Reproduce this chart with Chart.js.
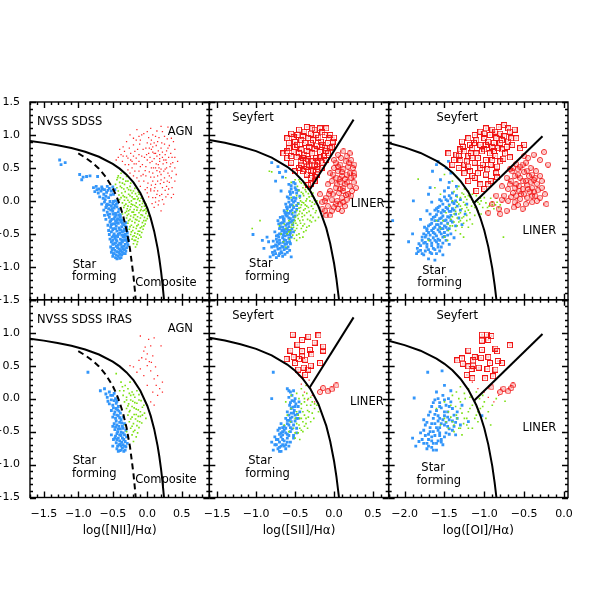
<!DOCTYPE html>
<html>
<head>
<meta charset="utf-8">
<script src="https://cdn.jsdelivr.net/npm/chart.js@4.4.1/dist/chart.umd.min.js"></script>
<style>
body { margin: 0; background: #fff; }
canvas { display: block; }
</style>
</head>
<body>
<canvas id="bpt" width="600" height="600"></canvas>
<script>
// tick labels
const xTicksNII = [-1.5, -1.0, -0.5, 0.0, 0.5]
const xTicksSII = [-1.5, -1.0, -0.5, 0.0, 0.5]
const xTicksOI = [-2.0, -1.5, -1.0, -0.5, 0.0]
const yTicks = [-1.5, -1.0, -0.5, 0.0, 0.5, 1.0, 1.5]

// demarcation lines
const kewleyNII = [[-1.7,0.909],[-1.5,0.88],[-1.3,0.845],[-1.1,0.801],[-0.9,0.745],[-0.7,0.669],[-0.5,0.561],[-0.4,0.489],[-0.3,0.398],[-0.2,0.28],[-0.1,0.12],[0.0,-0.108],[0.05,-0.262],[0.1,-0.459],[0.15,-0.716],[0.175,-0.878],[0.2,-1.069],[0.22,-1.25],[0.243,-1.5]]
const kauffNII = [[-1.0,0.719],[-0.9,0.658],[-0.8,0.582],[-0.7,0.487],[-0.6,0.362],[-0.5,0.191],[-0.45,0.08],[-0.4,-0.056],[-0.35,-0.225],[-0.3,-0.443],[-0.25,-0.733],[-0.2,-1.14],[-0.18,-1.352],[-0.168,-1.5]]
const kewleySII = [[-1.6,0.925],[-1.4,0.881],[-1.2,0.826],[-1.0,0.755],[-0.8,0.657],[-0.6,0.517],[-0.5,0.422],[-0.4,0.3],[-0.3,0.139],[-0.2,-0.085],[-0.1,-0.414],[-0.05,-0.646],[0.0,-0.95],[0.03,-1.183],[0.063,-1.5]]
const seyLineSII = [[-0.315,0.165],[0.25,1.233]]
const kewleyOI = [[-2.2,0.877],[-2.0,0.812],[-1.8,0.727],[-1.6,0.607],[-1.5,0.528],[-1.4,0.429],[-1.3,0.302],[-1.2,0.133],[-1.1,-0.101],[-1.05,-0.257],[-1.0,-0.45],[-0.95,-0.698],[-0.9,-1.025],[-0.87,-1.277],[-0.848,-1.5]]
const seyLineOI = [[-1.13,-0.033],[-0.27,0.981]]

// NVSS SDSS, [NII]
const niiSF = [[-1.27,0.62],[-1.25,0.55],[-1.19,0.58],[-0.98,0.40],[-0.93,0.36],[-0.88,0.37],[-0.83,0.38],[-0.72,0.37],[-0.95,0.32],
[-0.78,0.2],[-0.74,0.22],[-0.7,0.18],[-0.66,0.21],[-0.62,0.17],[-0.58,0.22],[-0.55,0.19],[-0.76,0.14],[-0.71,0.12],[-0.67,0.15],[-0.63,0.1],[-0.59,0.13],[-0.52,0.15],[-0.5,0.21],[-0.69,0.06],[-0.64,0.04],[-0.6,0.07],[-0.56,0.05],[-0.53,0.09],[-0.49,0.1],[-0.47,0.17],
[-0.62,-0.02],[-0.58,-0.05],[-0.54,-0.01],[-0.5,-0.04],[-0.46,0.0],[-0.43,-0.03],[-0.6,-0.1],[-0.56,-0.12],[-0.52,-0.08],[-0.48,-0.11],[-0.44,-0.09],[-0.41,-0.13],[-0.58,-0.17],[-0.54,-0.2],[-0.5,-0.16],[-0.46,-0.19],[-0.42,-0.17],[-0.39,-0.21],[-0.55,-0.25],[-0.51,-0.28],[-0.47,-0.24],[-0.43,-0.27],[-0.39,-0.25],[-0.36,-0.29],
[-0.54,-0.32],[-0.5,-0.35],[-0.46,-0.31],[-0.42,-0.34],[-0.38,-0.32],[-0.34,-0.36],[-0.31,-0.33],[-0.53,-0.4],[-0.49,-0.42],[-0.45,-0.38],[-0.41,-0.41],[-0.37,-0.39],[-0.33,-0.43],[-0.3,-0.4],[-0.52,-0.47],[-0.48,-0.5],[-0.44,-0.46],[-0.4,-0.49],[-0.36,-0.47],[-0.32,-0.51],[-0.29,-0.48],[-0.51,-0.55],[-0.47,-0.57],[-0.43,-0.54],[-0.39,-0.58],[-0.35,-0.55],[-0.31,-0.59],[-0.28,-0.56],
[-0.52,-0.62],[-0.48,-0.65],[-0.44,-0.61],[-0.4,-0.64],[-0.36,-0.62],[-0.32,-0.66],[-0.29,-0.63],[-0.53,-0.7],[-0.49,-0.72],[-0.45,-0.69],[-0.41,-0.73],[-0.37,-0.7],[-0.33,-0.74],[-0.3,-0.71],[-0.52,-0.78],[-0.48,-0.8],[-0.44,-0.77],[-0.4,-0.81],[-0.36,-0.78],[-0.32,-0.8],[-0.5,-0.84],[-0.46,-0.86],[-0.42,-0.84],[-0.38,-0.86],
[-0.47,-0.07],[-0.53,-0.14],[-0.45,-0.22],[-0.4,-0.44],[-0.46,-0.53],[-0.42,-0.67],[-0.38,-0.76],[-0.35,-0.52],[-0.44,-0.29],[-0.5,-0.6],
[-0.73,0.17],[-0.65,0.18],[-0.57,0.16],[-0.61,0.02],[-0.66,-0.05],[-0.55,-0.06],[-0.49,-0.01],[-0.45,-0.05],[-0.63,-0.14],[-0.59,-0.07],[-0.51,-0.12],[-0.62,-0.22],[-0.57,-0.21],[-0.49,-0.2],[-0.41,-0.22],[-0.6,-0.28],[-0.53,-0.3],[-0.48,-0.27],[-0.4,-0.29],[-0.57,-0.37],[-0.52,-0.36],[-0.47,-0.35],[-0.44,-0.33],[-0.36,-0.34],[-0.32,-0.38],[-0.56,-0.45],[-0.5,-0.44],[-0.46,-0.42],[-0.38,-0.44],[-0.34,-0.46],[-0.3,-0.45],[-0.55,-0.51],[-0.49,-0.53],[-0.42,-0.51],[-0.37,-0.52],[-0.33,-0.55],[-0.29,-0.53],[-0.54,-0.58],[-0.45,-0.59],[-0.37,-0.6],[-0.33,-0.6],[-0.27,-0.6],[-0.5,-0.66],[-0.46,-0.64],[-0.38,-0.66],[-0.34,-0.69],[-0.28,-0.67],[-0.51,-0.74],[-0.47,-0.75],[-0.43,-0.71],[-0.39,-0.74],[-0.35,-0.73],[-0.31,-0.76],[-0.49,-0.8],[-0.45,-0.82],[-0.41,-0.78],[-0.37,-0.82],[-0.34,-0.8],[-0.44,-0.88],[-0.4,-0.87]]
const niiComp = [[-0.42,0.38],[-0.38,0.42],[-0.35,0.33],[-0.4,0.28],[-0.33,0.25],[-0.28,0.3],[-0.3,0.37],[-0.25,0.22],[-0.37,0.2],[-0.42,0.15],[-0.32,0.14],[-0.27,0.17],[-0.22,0.12],[-0.18,0.19],[-0.35,0.08],[-0.3,0.05],[-0.25,0.08],[-0.2,0.03],[-0.15,0.07],[-0.12,0.1],[-0.4,0.02],[-0.36,-0.03],[-0.31,-0.05],[-0.26,-0.02],[-0.21,-0.06],[-0.16,-0.03],[-0.11,0.0],[-0.07,-0.04],[-0.34,-0.1],[-0.29,-0.12],[-0.24,-0.09],[-0.19,-0.13],[-0.14,-0.1],[-0.09,-0.13],[-0.04,-0.08],[-0.32,-0.18],[-0.27,-0.2],[-0.22,-0.17],[-0.17,-0.21],[-0.12,-0.18],[-0.07,-0.22],[-0.02,-0.19],[-0.3,-0.26],[-0.25,-0.28],[-0.2,-0.25],[-0.15,-0.29],[-0.1,-0.26],[-0.05,-0.3],[0.0,-0.27],[-0.28,-0.34],[-0.23,-0.37],[-0.18,-0.33],[-0.13,-0.36],[-0.08,-0.39],[-0.03,-0.35],[-0.26,-0.43],[-0.21,-0.45],[-0.16,-0.42],[-0.11,-0.46],[-0.06,-0.43],[-0.24,-0.51],[-0.19,-0.53],[-0.14,-0.5],[-0.09,-0.55],[-0.22,-0.58],[-0.17,-0.6],[-0.13,-0.57],[-0.2,-0.65],[-0.15,-0.66],[-0.46,0.25],[-0.44,0.32],[-0.24,0.27],[-0.13,0.04],[-0.02,-0.12],[0.03,-0.22],[-0.06,-0.15],[-0.33,0.01],[-0.18,-0.07],[-0.36,-0.2],[-0.27,-0.15],
[-0.43,0.35],[-0.39,0.35],[-0.36,0.27],[-0.31,0.3],[-0.44,0.2],[-0.39,0.22],[-0.34,0.18],[-0.29,0.2],[-0.24,0.16],[-0.2,0.15],[-0.41,0.09],[-0.37,0.12],[-0.33,0.06],[-0.27,0.1],[-0.22,0.06],[-0.17,0.11],[-0.13,0.13],[-0.38,0.05],[-0.28,0.01],[-0.23,0.0],[-0.18,0.03],[-0.14,0.02],[-0.09,0.04],[-0.06,-0.01],[-0.33,-0.07],[-0.28,-0.08],[-0.23,-0.05],[-0.16,-0.09],[-0.11,-0.06],[-0.08,-0.09],[-0.02,-0.05],[-0.3,-0.16],[-0.25,-0.13],[-0.2,-0.17],[-0.15,-0.14],[-0.1,-0.15],[-0.04,-0.14],[-0.01,-0.16],[-0.29,-0.22],[-0.24,-0.23],[-0.19,-0.21],[-0.14,-0.24],[-0.09,-0.21],[-0.04,-0.25],[0.01,-0.23],[-0.27,-0.3],[-0.22,-0.31],[-0.17,-0.28],[-0.12,-0.31],[-0.07,-0.33],[-0.02,-0.3],[-0.25,-0.39],[-0.2,-0.4],[-0.15,-0.38],[-0.1,-0.41],[-0.05,-0.38],[-0.23,-0.47],[-0.18,-0.49],[-0.13,-0.46],[-0.08,-0.48],[-0.21,-0.54],[-0.16,-0.55],[-0.11,-0.52],[-0.19,-0.6],[-0.14,-0.62],[-0.17,-0.7]]
const niiAGN = [[-0.15,1.08],[0.05,1.1],[0.22,1.05],[-0.05,1.02],[0.12,0.98],[-0.25,1.0],[0.3,1.12],
[-0.3,0.9],[-0.2,0.85],[-0.1,0.92],[0.0,0.88],[0.08,0.82],[0.15,0.9],[0.25,0.86],[0.35,0.95],[-0.35,0.82],[0.02,0.96],[0.2,0.8],
[-0.38,0.7],[-0.28,0.65],[-0.18,0.75],[-0.08,0.68],[0.02,0.72],[0.1,0.64],[0.18,0.7],[0.28,0.76],[0.36,0.66],[-0.12,0.6],[0.06,0.78],[0.24,0.62],[-0.45,0.62],[0.4,0.78],
[-0.32,0.55],[-0.22,0.5],[-0.12,0.45],[-0.02,0.52],[0.08,0.42],[0.16,0.55],[0.26,0.48],[0.34,0.56],[0.04,0.58],[-0.16,0.56],[0.2,0.4],[0.3,0.42],[-0.06,0.4],[0.12,0.5],[0.4,0.5],
[-0.15,0.35],[-0.05,0.3],[0.05,0.36],[0.12,0.25],[0.2,0.32],[0.28,0.22],[0.35,0.35],[-0.1,0.22],[0.0,0.2],[0.15,0.38],[0.24,0.28],[0.32,0.28],[0.08,0.3],
[0.0,0.12],[0.08,0.05],[0.15,0.15],[0.22,0.02],[0.3,0.1],[0.05,0.18],[0.18,0.08],[0.26,0.16],[0.12,-0.02],[0.35,0.05],[0.1,-0.1],[0.16,-0.06],[0.2,-0.15],
[0.0,0.62],[0.1,0.72],[-0.02,0.8],[0.18,0.6],[-0.1,0.52],[0.28,0.58],[0.14,0.46],[0.22,0.66],[-0.24,0.72],[0.32,0.84],[-0.22,0.6],[0.06,0.92],
[-0.42,0.66],[-0.36,0.6],[-0.4,0.78],[-0.33,0.75],[-0.3,0.68],[-0.26,0.8],[-0.27,0.55],[-0.24,0.62],[-0.2,0.68],[-0.19,0.56],[-0.16,0.65],[-0.14,0.78],[-0.12,0.7],[-0.11,0.86],[-0.06,0.78],[-0.04,0.66],[-0.07,0.55],[-0.03,0.46],[-0.09,0.38],[-0.12,0.3],[-0.18,0.45],[-0.25,0.42],[-0.2,0.38],[-0.02,0.38],[0.01,0.27],[0.03,0.44],[0.04,0.66],[0.05,0.86],[0.08,0.74],[0.07,0.6],[0.09,0.5],[0.1,0.36],[0.11,0.2],[0.13,0.56],[0.14,0.68],[0.13,0.84],[0.16,0.76],[0.17,0.5],[0.18,0.44],[0.19,0.26],[0.17,0.96],[0.21,0.88],[0.22,0.74],[0.23,0.56],[0.24,0.45],[0.25,0.35],[0.26,0.7],[0.27,0.62],[0.28,0.5],[0.29,0.94],[0.3,0.8],[0.31,0.66],[0.32,0.38],[0.33,0.52],[0.34,0.72],[0.36,0.45],[0.37,0.58],[0.38,0.9],[0.4,0.66],[0.42,0.4],[0.06,0.24],[0.02,0.06],[0.07,-0.04],[0.14,0.1],[0.17,0.0],[0.21,0.1],[0.24,-0.05],[0.27,0.06],[0.31,0.18],[0.36,0.2],[0.38,0.1],[0.4,0.3],[-0.08,1.0],[0.0,1.05],[0.08,1.0],[0.14,1.06],[0.25,0.98],[-0.2,0.95],[0.2,1.13],[-0.12,0.98],[0.1,0.88],[-0.16,0.92],[0.03,0.8],[0.12,0.72],[-0.01,0.7],[0.18,0.64],[0.06,0.5],[0.2,0.48],[0.15,0.3],[0.05,0.15],[-0.03,0.17],[0.1,0.15],[0.29,0.3],[0.22,0.2],[0.12,0.05],[-0.28,0.47],[-0.35,0.68],[0.44,0.6]]

// NVSS SDSS, [SII]
const siiSF = [[-0.82,-0.85],[-0.78,-0.82],[-0.74,-0.86],[-0.7,-0.8],[-0.66,-0.84],[-0.76,-0.76],[-0.72,-0.73],[-0.68,-0.77],[-0.64,-0.74],[-0.6,-0.78],[-0.8,-0.7],[-0.75,-0.67],[-0.71,-0.65],[-0.67,-0.69],[-0.63,-0.66],[-0.59,-0.7],[-0.78,-0.61],[-0.74,-0.58],[-0.7,-0.6],[-0.66,-0.56],[-0.62,-0.6],[-0.58,-0.57],[-0.84,-0.62],[-0.72,-0.52],[-0.68,-0.5],[-0.64,-0.48],[-0.6,-0.52],[-0.56,-0.49],[-0.76,-0.47],[-0.7,-0.42],[-0.66,-0.4],[-0.62,-0.43],[-0.58,-0.39],[-0.54,-0.42],[-0.68,-0.34],[-0.64,-0.31],[-0.6,-0.35],[-0.56,-0.32],[-0.52,-0.29],[-0.72,-0.3],[-0.66,-0.24],[-0.62,-0.22],[-0.58,-0.26],[-0.54,-0.2],[-0.5,-0.23],[-0.64,-0.15],[-0.6,-0.12],[-0.56,-0.16],[-0.52,-0.1],[-0.48,-0.13],[-0.62,-0.05],[-0.58,-0.02],[-0.54,-0.06],[-0.5,0.0],[-0.46,-0.04],[-0.6,0.06],[-0.56,0.1],[-0.52,0.05],[-0.48,0.12],[-0.44,0.07],[-0.55,0.18],[-0.5,0.2],[-0.46,0.16],[-0.58,0.25],[-0.52,0.28],
[-0.8,0.58],[-0.72,0.52],[-0.62,0.45],[-0.7,0.43],[-0.66,0.36],[-1.04,-0.51],[-0.9,-0.72],[-0.86,-0.55],[-0.55,-0.85],[-0.92,-0.6],[-0.75,0.3],[-0.68,0.15],
[-0.73,-0.69],[-0.69,-0.72],[-0.65,-0.63],[-0.61,-0.65],[-0.57,-0.62],[-0.71,-0.55],[-0.67,-0.45],[-0.63,-0.53],[-0.59,-0.45],[-0.55,-0.55],[-0.65,-0.28],[-0.61,-0.18],[-0.57,-0.09],[-0.53,-0.36],
[-0.79,-0.78],[-0.75,-0.8],[-0.71,-0.83],[-0.67,-0.79],[-0.63,-0.81],[-0.77,-0.69],[-0.65,-0.7],[-0.61,-0.72],[-0.57,-0.75],[-0.73,-0.62],[-0.69,-0.64],[-0.64,-0.59],[-0.6,-0.63],[-0.56,-0.65],[-0.74,-0.53],[-0.7,-0.5],[-0.65,-0.52],[-0.61,-0.48],[-0.57,-0.52],[-0.69,-0.39],[-0.64,-0.44],[-0.6,-0.42],[-0.56,-0.45],[-0.52,-0.47],[-0.71,-0.35],[-0.66,-0.33],[-0.62,-0.37],[-0.58,-0.34],[-0.54,-0.31],[-0.69,-0.25],[-0.64,-0.27],[-0.6,-0.23],[-0.56,-0.27],[-0.52,-0.24],[-0.63,-0.18],[-0.58,-0.19],[-0.54,-0.14],[-0.5,-0.17],[-0.61,-0.09],[-0.56,-0.06],[-0.52,-0.02],[-0.48,-0.07],[-0.58,0.04],[-0.54,0.01],[-0.49,0.04],[-0.57,0.14],[-0.53,0.13],[-0.49,0.17],[-0.55,0.23],[-0.5,0.26]]
const siiComp = [[-0.55,-0.4],[-0.5,-0.45],[-0.52,-0.33],[-0.47,-0.37],[-0.44,-0.3],[-0.5,-0.25],[-0.45,-0.2],[-0.41,-0.24],[-0.48,-0.15],[-0.43,-0.1],[-0.39,-0.14],[-0.35,-0.18],[-0.46,-0.05],[-0.41,-0.02],[-0.37,-0.06],[-0.33,-0.1],[-0.44,0.04],[-0.39,0.08],[-0.35,0.03],[-0.31,0.0],[-0.42,0.13],[-0.37,0.17],[-0.33,0.11],[-0.29,0.07],[-0.47,0.22],[-0.42,0.27],[-0.38,0.24],[-0.5,0.32],[-0.55,0.28],[-0.6,-0.5],[-0.57,-0.58],[-0.62,-0.42],[-0.58,-0.3],[-0.53,-0.52],[-0.48,-0.6],[-0.45,-0.5],[-0.42,-0.42],[-0.38,-0.35],[-0.34,-0.28],[-0.3,-0.22],[-0.27,-0.12],[-0.25,-0.05],[-0.23,-0.15],[-0.2,-0.25],[-0.28,-0.02],[-0.32,-0.38],[-0.36,-0.45],[-0.4,-0.55],[-0.65,-0.62],[-0.62,-0.7],[-0.68,-0.5],[-0.7,-0.38],[-0.83,0.45],[-0.8,0.44],[-0.62,0.35],[-0.45,0.32],[-1.05,-0.42],[-0.95,-0.3],[-0.3,0.14],[-0.26,0.05],[-0.22,0.0],[-0.2,-0.1],[-0.24,-0.3],[-0.52,-0.07],[-0.55,0.05],[-0.48,0.08],[-0.53,-0.18],[-0.6,-0.15],[-0.64,-0.35],[-0.38,-0.22],[-0.35,-0.08],[-0.29,-0.32],
[-0.56,-0.45],[-0.52,-0.4],[-0.49,-0.34],[-0.46,-0.27],[-0.43,-0.34],[-0.4,-0.29],[-0.47,-0.22],[-0.44,-0.16],[-0.41,-0.19],[-0.37,-0.12],[-0.45,-0.11],[-0.42,-0.06],[-0.39,-0.03],[-0.36,0.0],[-0.43,0.0],[-0.4,0.11],[-0.36,0.14],[-0.32,0.06],[-0.45,0.16],[-0.4,0.2],[-0.35,0.22],[-0.44,0.29],[-0.48,-0.52],[-0.44,-0.56],[-0.51,-0.57],[-0.58,-0.47],[-0.54,-0.36],[-0.5,-0.3],[-0.48,-0.42],[-0.39,-0.47],[-0.35,-0.4],[-0.31,-0.3],[-0.27,-0.25],[-0.24,-0.18],[-0.32,-0.16],[-0.29,-0.08],[-0.25,0.01],[-0.33,0.18],[-0.27,0.12],[-0.4,-0.38]]
const siiSey = [[-0.6,0.95],[-0.55,1.02],[-0.5,0.9],[-0.45,1.08],[-0.4,0.98],[-0.35,1.12],[-0.3,1.02],[-0.25,1.08],[-0.2,0.96],[-0.15,1.04],[-0.1,1.1],[-0.05,1.0],[-0.58,0.8],[-0.52,0.74],[-0.47,0.85],[-0.42,0.78],[-0.37,0.88],[-0.32,0.82],[-0.27,0.92],[-0.22,0.84],[-0.17,0.9],[-0.12,0.8],[-0.08,0.88],[-0.03,0.82],[-0.6,0.65],[-0.55,0.58],[-0.48,0.66],[-0.43,0.6],[-0.38,0.7],[-0.33,0.63],[-0.28,0.72],[-0.23,0.65],[-0.18,0.74],[-0.13,0.68],[-0.08,0.72],[-0.45,0.5],[-0.4,0.45],[-0.35,0.52],[-0.3,0.46],[-0.25,0.55],[-0.2,0.48],[-0.15,0.58],[-0.16,0.5],[-0.3,0.35],[-0.25,0.3],[-0.22,0.4],[-0.25,0.36],[-0.33,0.24],[-0.3,0.26],[-0.5,0.45],[0.0,0.96],[-0.1,0.62],[-0.65,0.72],[-0.35,0.4],
[-0.58,0.88],[-0.52,0.97],[-0.47,1.0],[-0.42,0.92],[-0.38,1.05],[-0.33,0.95],[-0.28,1.1],[-0.23,1.0],[-0.18,1.1],[-0.12,1.0],[-0.07,0.95],[-0.02,0.9],[-0.55,0.68],[-0.5,0.82],[-0.45,0.72],[-0.4,0.65],[-0.35,0.76],[-0.3,0.88],[-0.25,0.78],[-0.2,0.6],[-0.15,0.85],[-0.1,0.76],[-0.05,0.8],[-0.42,0.55],[-0.36,0.6],[-0.32,0.55],[-0.27,0.45],[-0.22,0.52],[-0.38,0.48],[-0.18,0.66],[-0.28,0.6],[-0.6,0.75]]
const siiLin = [[0.05,0.7],[0.12,0.75],[0.2,0.72],[0.22,0.62],[0.15,0.6],[0.08,0.55],[0.0,0.5],[-0.05,0.42],[0.05,0.45],[0.12,0.48],[0.18,0.52],[0.24,0.5],[0.1,0.38],[0.03,0.35],[-0.03,0.3],[0.16,0.4],[0.22,0.35],[0.08,0.28],[0.14,0.25],[0.2,0.22],[0.25,0.28],[0.02,0.2],[-0.05,0.15],[0.06,0.12],[0.12,0.15],[0.18,0.1],[0.23,0.15],[-0.1,0.05],[-0.03,0.02],[0.04,0.0],[0.1,0.05],[0.16,0.02],[-0.15,-0.02],[-0.08,-0.08],[0.0,-0.1],[0.07,-0.05],[-0.12,-0.15],[-0.05,-0.22],[0.14,-0.08],[-0.18,0.1],[0.0,0.62],[0.26,0.42],[-0.08,0.25],[0.28,0.2],[0.1,-0.15],[-0.15,-0.12],
[0.02,0.58],[0.09,0.65],[0.16,0.68],[0.19,0.58],[0.1,0.44],[0.05,0.52],[-0.01,0.4],[0.07,0.33],[0.14,0.33],[0.2,0.42],[0.25,0.38],[0.04,0.25],[0.12,0.2],[0.17,0.28],[-0.02,0.1],[0.08,0.18],[0.15,0.09],[0.22,0.08],[-0.07,0.1],[0.02,-0.04],[0.12,-0.02],[-0.12,0.0],[-0.03,-0.15],[0.05,-0.12],[0.26,0.55],[-0.1,-0.22]]

// NVSS SDSS, [OI]
const oiSF = [[-1.85,-0.8],[-1.8,-0.75],[-1.76,-0.82],[-1.72,-0.7],[-1.68,-0.78],[-1.64,-0.72],[-1.6,-0.8],[-1.82,-0.65],[-1.78,-0.6],[-1.74,-0.63],[-1.7,-0.58],[-1.66,-0.64],[-1.62,-0.6],[-1.58,-0.66],[-1.54,-0.7],[-1.76,-0.5],[-1.72,-0.45],[-1.68,-0.52],[-1.64,-0.48],[-1.6,-0.53],[-1.56,-0.47],[-1.52,-0.55],[-1.48,-0.6],[-1.7,-0.38],[-1.66,-0.34],[-1.62,-0.4],[-1.58,-0.36],[-1.54,-0.42],[-1.5,-0.38],[-1.46,-0.44],[-1.42,-0.5],[-1.64,-0.25],[-1.6,-0.21],[-1.56,-0.27],[-1.52,-0.23],[-1.48,-0.29],[-1.44,-0.25],[-1.4,-0.32],[-1.36,-0.38],[-1.6,-0.12],[-1.56,-0.08],[-1.52,-0.14],[-1.48,-0.1],[-1.44,-0.16],[-1.4,-0.12],[-1.36,-0.2],[-1.32,-0.26],[-1.56,0.02],[-1.5,0.06],[-1.46,0.0],[-1.42,0.04],[-1.38,-0.04],[-1.34,-0.08],[-1.3,-0.14],[-1.5,0.15],[-1.45,0.2],[-1.4,0.12],[-1.35,0.08],[-1.3,0.02],[-1.44,0.28],[-1.55,0.32],[-1.65,0.45],[-1.6,0.55],[-1.48,0.5],[-1.42,0.42],[-1.68,0.2],[-1.89,0.0],[-2.15,-0.3],[-1.9,-0.5],[-1.95,-0.62],[-1.7,-0.88],[-1.62,-0.9],[-1.52,-0.82],[-1.44,-0.66],[-1.38,-0.56],[-1.28,-0.36],[-1.24,-0.2],[-1.22,-0.05],[-1.75,-0.4],[-1.8,-0.28],[-1.72,-0.15],[-1.66,-0.02],[-1.7,0.1],[-1.35,0.22],[-1.58,0.6],[-1.45,0.6],[-1.74,-0.55],[-1.66,-0.68],[-1.58,-0.58],[-1.5,-0.48],[-1.46,-0.34],[-1.42,-0.22],[-1.38,-0.14],[-1.54,-0.34],[-1.62,-0.3],[-1.68,-0.2],[-1.58,-0.16],[-1.52,-0.05],[-1.44,-0.06],[-1.84,-0.72],[-1.56,-0.76],
[-1.83,-0.77],[-1.78,-0.8],[-1.74,-0.76],[-1.7,-0.74],[-1.66,-0.8],[-1.62,-0.74],[-1.58,-0.7],[-1.8,-0.68],[-1.76,-0.64],[-1.72,-0.66],[-1.68,-0.6],[-1.64,-0.56],[-1.6,-0.62],[-1.56,-0.6],[-1.52,-0.64],[-1.78,-0.55],[-1.73,-0.52],[-1.7,-0.48],[-1.66,-0.45],[-1.62,-0.5],[-1.58,-0.44],[-1.54,-0.5],[-1.5,-0.54],[-1.46,-0.52],[-1.72,-0.42],[-1.68,-0.36],[-1.64,-0.42],[-1.6,-0.36],[-1.56,-0.4],[-1.52,-0.42],[-1.48,-0.4],[-1.44,-0.42],[-1.66,-0.28],[-1.62,-0.24],[-1.58,-0.3],[-1.54,-0.26],[-1.5,-0.3],[-1.46,-0.24],[-1.42,-0.3],[-1.62,-0.14],[-1.58,-0.1],[-1.54,-0.18],[-1.5,-0.16],[-1.46,-0.12],[-1.42,-0.16],[-1.54,0.0],[-1.48,0.02],[-1.44,0.08],[-1.4,-0.02],[-1.36,0.0]]
const oiComp = [[-1.45,-0.45],[-1.4,-0.38],[-1.36,-0.45],[-1.32,-0.32],[-1.28,-0.4],[-1.42,-0.28],[-1.38,-0.2],[-1.34,-0.26],[-1.3,-0.18],[-1.26,-0.24],[-1.22,-0.3],[-1.36,-0.1],[-1.32,-0.05],[-1.28,-0.12],[-1.24,-0.06],[-1.2,-0.14],[-1.16,-0.08],[-1.3,0.05],[-1.26,0.1],[-1.22,0.02],[-1.18,0.06],[-1.14,-0.02],[-1.1,0.0],[-1.06,-0.05],[-1.02,-0.1],[-0.98,-0.03],[-0.94,-0.08],[-0.9,-0.02],[-0.86,-0.06],[-0.82,-0.1],[-1.08,-0.15],[-1.04,-0.2],[-1.12,-0.22],[-1.18,-0.28],[-1.25,0.18],[-1.2,0.15],[-1.32,0.22],[-1.4,0.3],[-1.5,-0.55],[-1.46,-0.6],[-1.55,-0.42],[-1.6,-0.3],[-1.48,-0.18],[-1.44,-0.08],[-1.4,0.0],[-1.34,0.06],[-1.83,0.33],[-0.76,-0.55],[-0.95,-0.15],[-0.88,-0.12],[-1.15,0.1],[-1.1,0.08],[-1.05,0.04],[-1.0,0.05],[-0.92,0.04],[-1.52,-0.3],[-1.3,-0.5],[-1.26,-0.55],[-1.2,-0.4],[-1.15,-0.35],[-1.62,0.2],[-1.5,0.4],[-1.55,0.1],[-1.7,-0.6],
[-1.43,-0.38],[-1.38,-0.32],[-1.34,-0.38],[-1.3,-0.3],[-1.26,-0.34],[-1.4,-0.24],[-1.36,-0.16],[-1.32,-0.2],[-1.28,-0.26],[-1.24,-0.16],[-1.34,-0.02],[-1.3,-0.08],[-1.26,-0.02],[-1.22,-0.1],[-1.18,-0.18],[-1.28,0.12],[-1.24,0.06],[-1.2,0.08],[-1.16,0.02],[-1.12,-0.1],[-1.08,-0.02],[-1.04,0.0],[-0.96,-0.1],[-0.9,-0.06],[-0.84,-0.02],[-0.8,-0.06],[-1.38,0.14],[-1.34,0.18],[-1.22,-0.22],[-1.46,-0.35]]
const oiSey = [[-1.35,0.7],[-1.3,0.62],[-1.25,0.75],[-1.2,0.68],[-1.15,0.8],[-1.1,0.72],[-1.05,0.85],[-1.0,0.78],[-0.95,0.9],[-0.9,0.82],[-0.85,0.95],[-0.8,0.88],[-0.75,0.98],[-0.7,0.9],[-0.65,0.85],[-1.28,0.9],[-1.2,0.95],[-1.12,1.0],[-1.05,1.05],[-0.98,1.1],[-0.9,1.08],[-0.82,1.12],[-0.75,1.15],[-0.68,1.05],[-0.6,0.95],[-1.4,0.55],[-1.32,0.5],[-1.25,0.55],[-1.18,0.45],[-1.12,0.58],[-1.05,0.5],[-0.98,0.62],[-0.92,0.55],[-0.86,0.68],[-0.8,0.6],[-0.74,0.72],[-0.68,0.66],[-1.2,0.3],[-1.12,0.35],[-1.05,0.25],[-0.98,0.4],[-0.92,0.3],[-0.85,0.42],[-0.84,0.36],[-1.1,0.15],[-1.0,0.18],[-0.95,0.25],[-0.55,0.8],[-0.5,0.85],[-1.45,0.72],[-1.0,0.95],[-0.88,0.75],[-1.15,0.65],[-0.78,0.78],[-1.3,0.78],[-0.62,1.08],[-1.38,0.62],
[-1.32,0.68],[-1.27,0.82],[-1.22,0.6],[-1.17,0.72],[-1.13,0.88],[-1.08,0.65],[-1.03,0.75],[-0.98,0.85],[-0.93,0.72],[-0.88,0.88],[-0.83,0.8],[-0.78,0.92],[-0.72,0.82],[-0.66,0.95],[-1.25,0.42],[-1.2,0.52],[-1.15,0.38],[-1.08,0.42],[-1.02,0.55],[-0.96,0.48],[-0.9,0.62],[-0.84,0.52],[-0.76,0.64],[-1.1,0.92],[-1.0,1.02],[-0.93,1.0],[-0.86,1.05],[-0.8,1.02],[-0.7,1.1],[-1.18,0.85]]
const oiLin = [[-0.68,0.48],[-0.6,0.56],[-0.55,0.52],[-0.48,0.58],[-0.42,0.5],[-0.35,0.45],[-0.65,0.45],[-0.58,0.4],[-0.5,0.44],[-0.44,0.38],[-0.38,0.32],[-0.3,0.38],[-0.72,0.35],[-0.66,0.3],[-0.6,0.25],[-0.52,0.3],[-0.46,0.24],[-0.4,0.2],[-0.34,0.26],[-0.28,0.2],[-0.78,0.22],[-0.7,0.18],[-0.64,0.12],[-0.56,0.15],[-0.5,0.1],[-0.43,0.14],[-0.36,0.08],[-0.3,0.05],[-0.24,0.1],[-0.85,0.08],[-0.78,0.02],[-0.7,0.0],[-0.62,-0.02],[-0.55,0.03],[-0.48,-0.05],[-0.4,-0.02],[-0.9,-0.05],[-0.82,-0.12],[-0.72,-0.15],[-0.63,-0.1],[-0.52,-0.12],[-0.45,0.65],[-0.38,0.7],[-0.3,0.62],[-0.25,0.74],[-0.2,0.55],[-0.22,-0.05],[-0.95,-0.18],[-0.8,-0.2],[-0.5,0.68],
[-0.64,0.5],[-0.58,0.48],[-0.52,0.55],[-0.46,0.46],[-0.4,0.4],[-0.62,0.38],[-0.55,0.35],[-0.48,0.3],[-0.42,0.28],[-0.36,0.35],[-0.68,0.25],[-0.62,0.2],[-0.56,0.22],[-0.52,0.18],[-0.45,0.18],[-0.38,0.14],[-0.33,0.16],[-0.66,0.06],[-0.6,0.08],[-0.54,0.1],[-0.46,0.05],[-0.4,0.08],[-0.34,0.0],[-0.75,0.08],[-0.58,-0.06],[-0.28,0.3]]

// NVSS SDSS IRAS, [NII]
const niiSFir = [[-0.86,0.4],[-0.68,0.12],[-0.62,0.15],[-0.55,0.1],[-0.5,0.05],[-0.58,0.02],[-0.52,-0.02],[-0.46,0.0],[-0.55,-0.08],[-0.5,-0.1],[-0.45,-0.07],[-0.42,-0.12],[-0.52,-0.18],[-0.47,-0.2],[-0.43,-0.17],[-0.39,-0.22],[-0.5,-0.28],[-0.46,-0.3],[-0.42,-0.26],[-0.38,-0.32],[-0.35,-0.28],[-0.48,-0.38],[-0.44,-0.4],[-0.4,-0.36],[-0.36,-0.42],[-0.33,-0.38],[-0.47,-0.47],[-0.43,-0.5],[-0.39,-0.46],[-0.35,-0.52],[-0.31,-0.48],[-0.46,-0.57],[-0.42,-0.6],[-0.38,-0.56],[-0.34,-0.62],[-0.3,-0.58],[-0.45,-0.67],[-0.41,-0.7],[-0.37,-0.66],[-0.33,-0.72],[-0.29,-0.68],[-0.44,-0.76],[-0.4,-0.79],[-0.36,-0.75],[-0.32,-0.78],[-0.5,-0.72],[-0.52,-0.55],[-0.49,-0.62],[-0.44,-0.25],[-0.4,-0.55],[-0.36,-0.6],[-0.41,-0.42],[-0.38,-0.72],[-0.48,-0.03],
[-0.53,0.05],[-0.48,0.08],[-0.44,-0.04],[-0.49,-0.14],[-0.45,-0.15],[-0.41,-0.19],[-0.48,-0.24],[-0.4,-0.29],[-0.45,-0.34],[-0.37,-0.37],[-0.46,-0.43],[-0.42,-0.46],[-0.35,-0.45],[-0.44,-0.53],[-0.38,-0.51],[-0.33,-0.55],[-0.44,-0.62],[-0.4,-0.64],[-0.32,-0.65],[-0.43,-0.72],[-0.39,-0.69],[-0.35,-0.7],[-0.31,-0.73],[-0.42,-0.8],[-0.38,-0.78],[-0.34,-0.8],[-0.47,-0.6],[-0.5,-0.42],[-0.6,0.07],[-0.57,-0.04]]
const niiCompIr = [[-0.45,0.38],[-0.38,0.25],[-0.32,0.2],[-0.4,0.12],[-0.28,0.15],[-0.22,0.1],[-0.35,0.05],[-0.3,0.02],[-0.24,0.05],[-0.18,0.02],[-0.12,0.06],[-0.33,-0.05],[-0.27,-0.08],[-0.21,-0.04],[-0.15,-0.07],[-0.09,-0.03],[-0.3,-0.15],[-0.25,-0.18],[-0.19,-0.14],[-0.13,-0.17],[-0.07,-0.13],[-0.28,-0.25],[-0.22,-0.28],[-0.16,-0.24],[-0.1,-0.27],[-0.04,-0.22],[-0.26,-0.35],[-0.2,-0.38],[-0.14,-0.34],[-0.08,-0.37],[-0.24,-0.45],[-0.18,-0.48],[-0.12,-0.44],[-0.22,-0.55],[-0.16,-0.58],[-0.2,-0.65],[-0.02,-0.3],[-0.36,0.18],[-0.25,0.25],[-0.15,0.12],[-0.05,-0.1],[-0.32,-0.4],[-0.3,-0.5],
[-0.34,0.12],[-0.26,0.08],[-0.2,0.06],[-0.3,-0.02],[-0.24,-0.02],[-0.18,-0.06],[-0.12,-0.02],[-0.28,-0.11],[-0.22,-0.12],[-0.16,-0.16],[-0.1,-0.2],[-0.26,-0.2],[-0.19,-0.24],[-0.13,-0.27],[-0.07,-0.25],[-0.24,-0.31],[-0.17,-0.31],[-0.11,-0.35],[-0.22,-0.42],[-0.15,-0.41],[-0.2,-0.5],[-0.14,-0.52]]
const niiAGNir = [[-0.1,0.95],[0.1,0.92],[0.05,0.8],[-0.05,0.72],[0.0,0.68],[-0.02,0.6],[0.03,0.56],[-0.08,0.62],[0.08,0.65],[0.0,0.5],[-0.1,0.45],[0.05,0.42],[0.12,0.48],[-0.05,0.35],[0.1,0.3],[0.2,0.8],[0.22,0.25],[0.18,0.15],[0.15,0.05],[0.08,0.1],[0.0,0.2],[-0.15,0.4],[-0.2,0.48],[0.22,0.1],[0.1,-0.1],[0.05,-0.05],[0.13,0.2],[0.02,0.9],[-0.12,0.58],[-0.03,0.78],[0.06,0.55],[0.15,0.35],[-0.25,0.5]]

// NVSS SDSS IRAS, [SII]
const siiSFir = [[-0.78,0.4],[-0.8,0.0],[-0.6,0.15],[-0.56,0.1],[-0.52,0.12],[-0.58,0.02],[-0.54,-0.03],[-0.5,0.0],[-0.57,-0.1],[-0.53,-0.13],[-0.49,-0.08],[-0.46,-0.12],[-0.6,-0.2],[-0.55,-0.22],[-0.51,-0.18],[-0.47,-0.24],[-0.44,-0.2],[-0.62,-0.3],[-0.58,-0.33],[-0.54,-0.28],[-0.5,-0.34],[-0.46,-0.3],[-0.68,-0.38],[-0.64,-0.42],[-0.6,-0.38],[-0.56,-0.44],[-0.52,-0.4],[-0.48,-0.45],[-0.72,-0.48],[-0.68,-0.52],[-0.64,-0.48],[-0.6,-0.54],[-0.56,-0.5],[-0.52,-0.56],[-0.76,-0.58],[-0.72,-0.62],[-0.68,-0.58],[-0.64,-0.64],[-0.6,-0.6],[-0.56,-0.66],[-0.74,-0.7],[-0.7,-0.74],[-0.66,-0.7],[-0.62,-0.76],[-0.58,-0.72],[-0.8,-0.66],[-0.78,-0.78],[-0.68,-0.8],[-0.55,-0.35],[-0.62,-0.7],[-0.66,-0.55],[-0.7,-0.45],[-0.5,-0.25],[-0.45,-0.05],[-0.52,-0.6],[-0.48,-0.52],
[-0.58,0.12],[-0.54,0.05],[-0.56,-0.06],[-0.51,-0.04],[-0.55,-0.15],[-0.5,-0.12],[-0.58,-0.25],[-0.52,-0.22],[-0.48,-0.3],[-0.6,-0.33],[-0.56,-0.3],[-0.66,-0.44],[-0.62,-0.45],[-0.58,-0.4],[-0.54,-0.46],[-0.7,-0.54],[-0.66,-0.5],[-0.62,-0.52],[-0.58,-0.56],[-0.74,-0.62],[-0.7,-0.66],[-0.66,-0.62],[-0.6,-0.66],[-0.72,-0.76],[-0.68,-0.72],[-0.64,-0.72],[-0.76,-0.7],[-0.7,-0.8]]
const siiCompIr = [[-0.62,-0.05],[-0.55,-0.15],[-0.5,-0.3],[-0.45,-0.4],[-0.4,-0.35],[-0.48,-0.2],[-0.42,-0.15],[-0.38,-0.25],[-0.35,-0.1],[-0.32,-0.2],[-0.28,-0.05],[-0.25,-0.15],[-0.45,0.0],[-0.4,0.05],[-0.35,0.08],[-0.3,0.02],[-0.48,0.08],[-0.52,-0.45],[-0.46,-0.52],[-0.42,-0.48],[-0.38,-0.42],[-0.5,-0.6],[-0.44,-0.62],[-0.58,-0.5],[-0.64,-0.4],[-0.6,-0.25],[-0.22,-0.1],[-0.2,-0.2],[-0.26,-0.3],[-0.3,-0.35],[-0.34,-0.45],[-0.55,0.05],[-0.42,0.15],[-0.36,0.2],[-0.44,-0.3],[-0.38,-0.05],[-0.33,-0.28],[-0.56,-0.35],
[-0.46,-0.25],[-0.42,-0.3],[-0.4,-0.2],[-0.36,-0.3],[-0.34,-0.18],[-0.3,-0.1],[-0.42,-0.08],[-0.38,0.0],[-0.33,0.0],[-0.44,-0.45],[-0.4,-0.5],[-0.36,-0.38],[-0.48,-0.38],[-0.5,-0.52],[-0.28,-0.22],[-0.25,-0.08]]
const siiAGNir = [[-0.45,0.35],[-0.4,0.3],[-0.35,0.2],[-0.3,0.15],[-0.32,0.28],[-0.38,0.1],[-0.28,0.05],[-0.42,0.22],[-0.25,-0.05],[-0.34,-0.02]]
const siiSeyIr = [[-0.53,0.97],[-0.41,0.89],[-0.33,0.94],[-0.2,0.96],[-0.14,0.79],[-0.14,0.73],[-0.31,0.74],[-0.41,0.72],[-0.56,0.73],[-0.61,0.6],[-0.52,0.63],[-0.41,0.64],[-0.37,0.59],[-0.29,0.67],[-0.18,0.54],[-0.5,0.54],[-0.39,0.47],[-0.33,0.44],[-0.46,0.44],[-0.37,0.36],[-0.47,0.82],[-0.25,0.85],[-0.45,0.6],[-0.3,0.5]]
const siiLinIr = [[-0.18,0.1],[-0.14,0.16],[-0.08,0.11],[-0.03,0.14],[0.03,0.2]]

// NVSS SDSS IRAS, [OI]
const oiSFir = [[-1.88,0.01],[-1.71,0.4],[-1.53,0.42],[-1.03,-0.26],[-1.6,0.1],[-1.52,0.05],[-1.45,0.0],[-1.62,-0.02],[-1.56,-0.06],[-1.48,-0.1],[-1.42,-0.05],[-1.66,-0.12],[-1.6,-0.18],[-1.54,-0.14],[-1.46,-0.2],[-1.4,-0.15],[-1.7,-0.25],[-1.64,-0.3],[-1.58,-0.26],[-1.52,-0.32],[-1.46,-0.28],[-1.4,-0.34],[-1.34,-0.3],[-1.74,-0.4],[-1.68,-0.44],[-1.62,-0.38],[-1.56,-0.44],[-1.5,-0.4],[-1.44,-0.46],[-1.38,-0.42],[-1.8,-0.52],[-1.74,-0.56],[-1.68,-0.5],[-1.62,-0.56],[-1.56,-0.52],[-1.5,-0.58],[-1.44,-0.54],[-1.82,-0.65],[-1.76,-0.68],[-1.7,-0.62],[-1.64,-0.68],[-1.58,-0.64],[-1.52,-0.7],[-1.72,-0.76],[-1.66,-0.74],[-1.6,-0.78],[-1.86,-0.72],[-1.9,-0.6],[-1.36,-0.55],[-1.3,-0.4],[-1.34,-0.2],[-1.28,-0.1],[-1.5,0.2],[-1.42,0.12],[-1.58,-0.48],[-1.66,-0.58],[-1.54,-0.62],[-1.48,-0.36],[-1.58,-0.34],[-1.38,-0.25],[-1.76,-0.32],[-1.2,-0.35],
[-1.58,0.0],[-1.5,-0.02],[-1.64,-0.06],[-1.56,-0.12],[-1.5,-0.2],[-1.44,-0.12],[-1.68,-0.2],[-1.62,-0.24],[-1.56,-0.3],[-1.5,-0.26],[-1.44,-0.32],[-1.72,-0.36],[-1.66,-0.38],[-1.6,-0.44],[-1.54,-0.38],[-1.46,-0.42],[-1.76,-0.48],[-1.7,-0.54],[-1.64,-0.5],[-1.56,-0.56],[-1.48,-0.52],[-1.78,-0.62],[-1.72,-0.68],[-1.66,-0.64],[-1.6,-0.68],[-1.54,-0.66],[-1.7,-0.72],[-1.64,-0.78],[-1.4,-0.48],[-1.36,-0.36]]
const oiCompIr = [[-1.5,-0.3],[-1.45,-0.2],[-1.4,-0.35],[-1.35,-0.25],[-1.3,-0.15],[-1.25,-0.3],[-1.2,-0.2],[-1.15,-0.1],[-1.1,-0.25],[-1.05,-0.15],[-1.0,-0.05],[-0.95,-0.2],[-0.9,-0.1],[-1.4,0.05],[-1.32,0.0],[-1.25,0.08],[-1.18,0.02],[-1.1,0.1],[-1.02,0.05],[-1.45,-0.45],[-1.38,-0.5],[-1.3,-0.45],[-1.22,-0.4],[-1.15,-0.45],[-1.55,-0.4],[-1.6,-0.15],[-1.3,0.18],[-1.2,0.15],[-0.74,-0.04],[-0.85,0.0],[-1.28,-0.55],[-1.08,-0.35],[-0.98,-0.3],[-1.5,-0.05],[-1.42,-0.1],[-1.35,0.1],[-1.12,-0.05],[-0.92,-0.4],
[-1.48,-0.35],[-1.42,-0.28],[-1.38,-0.4],[-1.34,-0.3],[-1.28,-0.22],[-1.22,-0.3],[-1.18,-0.15],[-1.12,-0.3],[-1.08,-0.2],[-1.02,-0.12],[-1.36,-0.12],[-1.3,-0.05],[-1.24,0.0],[-1.16,0.04],[-1.06,0.0],[-1.32,-0.45],[-1.26,-0.38],[-1.2,-0.45]]
const oiAGNir = [[-1.15,0.25],[-1.08,0.15],[-1.0,0.1],[-0.95,0.02],[-0.88,-0.05],[-0.82,0.05]]
const oiSeyIr = [[-1.03,0.97],[-0.97,0.97],[-0.91,0.95],[-1.03,0.88],[-0.95,0.89],[-0.68,0.81],[-1.2,0.73],[-1.03,0.74],[-0.86,0.76],[-0.84,0.72],[-1.34,0.58],[-1.28,0.61],[-1.27,0.53],[-1.12,0.63],[-1.04,0.62],[-0.95,0.63],[-0.93,0.54],[-0.83,0.57],[-0.78,0.54],[-1.2,0.49],[-1.14,0.5],[-1.16,0.45],[-1.07,0.47],[-0.96,0.45],[-0.86,0.44],[-1.22,0.36],[-1.15,0.31],[-0.99,0.31],[-0.89,0.34],[-1.14,0.58]]
const oiLinIr = [[-0.91,0.17],[-0.8,0.1],[-0.76,0.15],[-0.7,0.11],[-0.66,0.16],[-0.64,0.2]]

// region labels: axis ids, text, x, y, align
const notas = [
  ['x1','yT','NVSS SDSS',-1.6,1.2,'left'],
  ['x1','yT','AGN',0.48,1.05,'center'],
  ['x1','yT','Star',-1.08,-0.97,'left'],
  ['x1','yT','forming',-1.09,-1.16,'left'],
  ['x1','yT','Composite',0.27,-1.25,'center'],
  ['x2','yT','Seyfert',-1.04,1.25,'center'],
  ['x2','yT','LINER',0.43,-0.05,'center'],
  ['x2','yT','Star',-1.09,-0.96,'left'],
  ['x2','yT','forming',-1.14,-1.16,'left'],
  ['x3','yT','Seyfert',-1.34,1.25,'center'],
  ['x3','yT','LINER',-0.31,-0.45,'center'],
  ['x3','yT','Star',-1.78,-1.06,'left'],
  ['x3','yT','forming',-1.84,-1.25,'left'],
  ['x1','yB','NVSS SDSS IRAS',-1.6,1.2,'left'],
  ['x1','yB','AGN',0.48,1.05,'center'],
  ['x1','yB','Star',-1.08,-0.94,'left'],
  ['x1','yB','forming',-1.09,-1.15,'left'],
  ['x1','yB','Composite',0.27,-1.24,'center'],
  ['x2','yB','Seyfert',-1.04,1.25,'center'],
  ['x2','yB','LINER',0.42,-0.05,'center'],
  ['x2','yB','Star',-1.1,-0.95,'left'],
  ['x2','yB','forming',-1.14,-1.15,'left'],
  ['x3','yB','Seyfert',-1.34,1.25,'center'],
  ['x3','yB','LINER',-0.31,-0.44,'center'],
  ['x3','yB','Star',-1.79,-1.06,'left'],
  ['x3','yB','forming',-1.85,-1.25,'left']
]

const azul = 'rgb(51,150,250)'
const verde = 'rgb(125,225,20)'
const rojo = 'rgb(240,20,20)'

Chart.defaults.font.family = '"DejaVu Sans"'
Chart.defaults.color = '#000'

// open square / circle with a dot in the middle
function marca(tipo) {
  const c = document.createElement('canvas')
  c.width = 6
  c.height = 6
  const g = c.getContext('2d')
  g.strokeStyle = rojo
  g.lineWidth = 1
  if (tipo == 'sq') {
    g.strokeRect(0.5, 0.5, 5, 5)
  } else {
    g.beginPath()
    g.arc(3, 3, 2.5, 0, 2 * Math.PI)
    g.stroke()
  }
  g.fillStyle = rojo
  g.fillRect(2.5, 2.5, 1, 1)
  return c
}
const marcaSq = marca('sq')
const marcaCi = marca('ci')

const xy = arr => arr.map(p => ({x: p[0], y: p[1]}))

let datasets = []
function puntos(arr, xa, ya, tipo) {
  let ds = {data: xy(arr), xAxisID: xa, yAxisID: ya, borderWidth: 0}
  if (tipo == 'azul') Object.assign(ds, {pointStyle: 'rect', pointRadius: 2.0, backgroundColor: azul, order: 4})
  if (tipo == 'verde') Object.assign(ds, {pointStyle: 'rect', pointRadius: 1.15, backgroundColor: verde, order: 3})
  if (tipo == 'rojo') Object.assign(ds, {pointStyle: 'rect', pointRadius: 0.9, backgroundColor: 'rgba(255,0,0,0.85)', order: 2})
  if (tipo == 'sq') Object.assign(ds, {pointStyle: marcaSq, pointRadius: 3, order: 2})
  if (tipo == 'ci') Object.assign(ds, {pointStyle: marcaCi, pointRadius: 3, order: 2})
  datasets.push(ds)
}
function linea(arr, xa, ya, discontinua) {
  datasets.push({data: xy(arr), xAxisID: xa, yAxisID: ya, showLine: true, pointRadius: 0,
    borderColor: '#000', borderWidth: 2, borderDash: discontinua ? [6, 4] : [], order: 0})
}

// top row
puntos(niiSF, 'x1', 'yT', 'azul'); puntos(niiComp, 'x1', 'yT', 'verde'); puntos(niiAGN, 'x1', 'yT', 'rojo')
puntos(siiSF, 'x2', 'yT', 'azul'); puntos(siiComp, 'x2', 'yT', 'verde'); puntos(siiSey, 'x2', 'yT', 'sq'); puntos(siiLin, 'x2', 'yT', 'ci')
puntos(oiSF, 'x3', 'yT', 'azul'); puntos(oiComp, 'x3', 'yT', 'verde'); puntos(oiSey, 'x3', 'yT', 'sq'); puntos(oiLin, 'x3', 'yT', 'ci')
// bottom row
puntos(niiSFir, 'x1', 'yB', 'azul'); puntos(niiCompIr, 'x1', 'yB', 'verde'); puntos(niiAGNir, 'x1', 'yB', 'rojo')
puntos(siiSFir, 'x2', 'yB', 'azul'); puntos(siiCompIr, 'x2', 'yB', 'verde'); puntos(siiAGNir, 'x2', 'yB', 'rojo'); puntos(siiSeyIr, 'x2', 'yB', 'sq'); puntos(siiLinIr, 'x2', 'yB', 'ci')
puntos(oiSFir, 'x3', 'yB', 'azul'); puntos(oiCompIr, 'x3', 'yB', 'verde'); puntos(oiAGNir, 'x3', 'yB', 'rojo'); puntos(oiSeyIr, 'x3', 'yB', 'sq'); puntos(oiLinIr, 'x3', 'yB', 'ci')

for (const ya of ['yT', 'yB']) {
  linea(kewleyNII, 'x1', ya, false); linea(kauffNII, 'x1', ya, true)
  linea(kewleySII, 'x2', ya, false); linea(seyLineSII, 'x2', ya, false)
  linea(kewleyOI, 'x3', ya, false); linea(seyLineOI, 'x3', ya, false)
}

const etiqueta = v => (v < 0 ? '\u2212' : '') + Math.abs(v).toFixed(1)

function ejeX(min, max, marcas, titulo, peso) {
  return {
    type: 'linear', position: 'bottom', stack: 'fila', stackWeight: 1, weight: peso,
    min: min, max: max,
    grid: {display: false, drawTicks: false}, border: {display: false},
    afterBuildTicks: s => { s.ticks = marcas.map(v => ({value: v})) },
    afterFit: s => { s.height = 44 },
    ticks: {autoSkip: false, maxRotation: 0, padding: 10, font: {size: 11}, callback: etiqueta},
    title: {display: true, text: titulo, font: {size: 12}, padding: {top: 2, bottom: 3}}
  }
}
function ejeY(arriba, peso) {
  return {
    type: 'linear', position: 'left', stack: 'col', stackWeight: 1, weight: peso,
    min: -1.5, max: 1.5,
    grid: {display: false, drawTicks: false}, border: {display: false},
    afterBuildTicks: s => { s.ticks = yTicks.map(v => ({value: v})) },
    afterFit: s => { s.width = 30 },
    ticks: {autoSkip: false, padding: 10, font: {size: 11},
      callback: v => (!arriba && v == 1.5) ? '' : etiqueta(v)}
  }
}

// frame and inward ticks for each panel
const marco = {
  id: 'marco',
  afterDraw(chart) {
    const ctx = chart.ctx
    ctx.save()
    ctx.strokeStyle = '#000'
    ctx.lineWidth = 1.4
    for (const ya of ['yT', 'yB']) {
      for (const xa of ['x1', 'x2', 'x3']) {
        const xs = chart.scales[xa], ys = chart.scales[ya]
        ctx.strokeRect(xs.left, ys.top, xs.right - xs.left, ys.bottom - ys.top)
        ctx.beginPath()
        for (let k = Math.ceil(xs.min * 10); k <= Math.floor(xs.max * 10); k++) {
          const px = Math.round(xs.getPixelForValue(k / 10)) + 0.5
          const l = k % 5 == 0 ? 6 : 3
          ctx.moveTo(px, ys.bottom); ctx.lineTo(px, ys.bottom - l)
          ctx.moveTo(px, ys.top); ctx.lineTo(px, ys.top + l)
        }
        for (let k = Math.ceil(ys.min * 10); k <= Math.floor(ys.max * 10); k++) {
          const py = Math.round(ys.getPixelForValue(k / 10)) + 0.5
          const l = k % 5 == 0 ? 6 : 3
          ctx.moveTo(xs.left, py); ctx.lineTo(xs.left + l, py)
          ctx.moveTo(xs.right, py); ctx.lineTo(xs.right - l, py)
        }
        ctx.stroke()
      }
    }
    ctx.restore()
  }
}

const textos = {
  id: 'textos',
  afterDatasetsDraw(chart) {
    const ctx = chart.ctx
    ctx.save()
    ctx.fillStyle = '#000'
    ctx.font = '11.5px "DejaVu Sans"'
    ctx.textBaseline = 'middle'
    notas.forEach(n => {
      ctx.textAlign = n[5]
      ctx.fillText(n[2], chart.scales[n[0]].getPixelForValue(n[3]), chart.scales[n[1]].getPixelForValue(n[4]))
    })
    ctx.restore()
  }
}

new Chart(document.getElementById('bpt'), {
  type: 'scatter',
  data: {datasets: datasets},
  options: {
    responsive: false,
    animation: false,
    events: [],
    layout: {padding: {left: 0, right: 32, top: 102, bottom: 58.5}},
    plugins: {legend: {display: false}, tooltip: {enabled: false}},
    scales: {
      x1: ejeX(-1.7, 0.9, xTicksNII, 'log([NII]/H\u03b1)', 0),
      x2: ejeX(-1.6, 0.7, xTicksSII, 'log([SII]/H\u03b1)', 1),
      x3: ejeX(-2.2, 0.05, xTicksOI, 'log([OI]/H\u03b1)', 2),
      yT: ejeY(true, 1),
      yB: ejeY(false, 0)
    }
  },
  plugins: [textos, marco]
})
</script>
</body>
</html>
